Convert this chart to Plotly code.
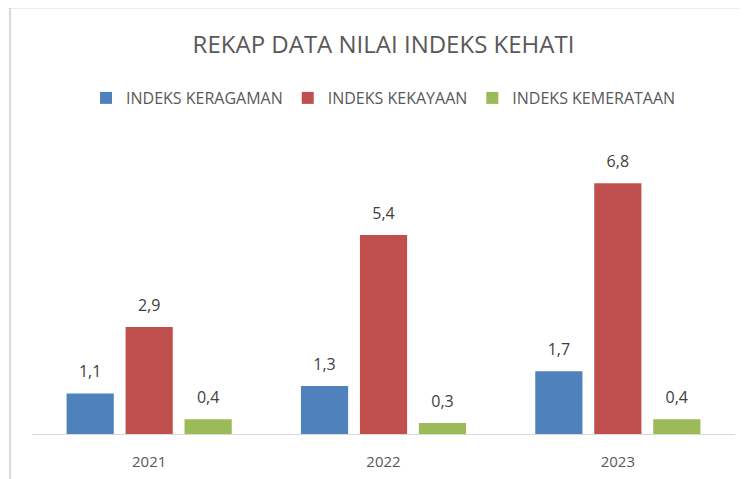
import plotly.graph_objects as go

years = ["2021", "2022", "2023"]
keragaman = [1.1, 1.3, 1.7]
kekayaan = [2.9, 5.4, 6.8]
kemerataan = [0.4, 0.3, 0.4]
series_names = ["INDEKS KERAGAMAN", "INDEKS KEKAYAAN", "INDEKS KEMERATAAN"]
series_values = [keragaman, kekayaan, kemerataan]
colors = ["#4F81BD", "#C0504D", "#9BBB59"]
chart_title = "REKAP DATA NILAI INDEKS KEHATI"

FONT = "Open Sans, sans-serif"


def fmt(v):
    return f"{v:.1f}".replace(".", ",")


fig = go.Figure()
for i, (name, vals, col) in enumerate(zip(series_names, series_values, colors)):
    fig.add_trace(go.Bar(
        x=years, y=vals, name=name,
        marker=dict(color=col, line=dict(width=0)),
        offsetgroup=f"g{i}", hoverinfo="x+y+name",
    ))
for i, (name, vals) in enumerate(zip(series_names, series_values)):
    fig.add_trace(go.Scatter(
        x=years, y=vals, mode="markers+text",
        text=[fmt(v) for v in vals], textposition="top center",
        textfont=dict(family=FONT, size=16, color="#404040"),
        marker=dict(size=18, opacity=0), showlegend=False,
        offsetgroup=f"g{i}", hoverinfo="skip", cliponaxis=False,
    ))

# the page body has an 8px margin, so the figure is 8px smaller and
# everything below is measured from the figure's own corner
W, H = 739, 471
fig.update_layout(
    width=W, height=H,
    margin=dict(l=24, r=12, t=131, b=45, autoexpand=False),
    paper_bgcolor="white", plot_bgcolor="white",
    barmode="group", bargap=0.245, bargroupgap=0.2,
    scattermode="group", scattergap=0.245,
    font=dict(family=FONT, color="#595959"),
    title=dict(text=chart_title, x=0.5, xref="paper", xanchor="center",
               y=1 - 37 / H, yref="container", yanchor="middle",
               font=dict(family=FONT, size=24, color="#595959")),
    legend=dict(orientation="h", x=0.5, xanchor="center",
                y=(426 - 90) / 295, yanchor="middle",
                font=dict(family=FONT, size=16, color="#595959"),
                itemwidth=30),
    xaxis=dict(showline=True, linecolor="#D9D9D9", linewidth=1,
               showgrid=False, ticks="", ticklabelstandoff=14,
               automargin=False,
               tickfont=dict(family=FONT, size=15, color="#595959")),
    yaxis=dict(range=[0, 8], visible=False, showgrid=False,
               automargin=False),
    shapes=[
        dict(type="line", xref="paper", yref="paper",
             x0=-24 / 703, x1=1.02, y0=(426 + 0.5) / 295, y1=(426 + 0.5) / 295,
             line=dict(color="#D9D9D9", width=2)),
        dict(type="line", xref="paper", yref="paper",
             x0=-22 / 703, x1=-22 / 703, y0=(426 + 0.5) / 295, y1=-46 / 295,
             line=dict(color="#D9D9D9", width=2)),
    ],
)

fig.write_html("out.html")
